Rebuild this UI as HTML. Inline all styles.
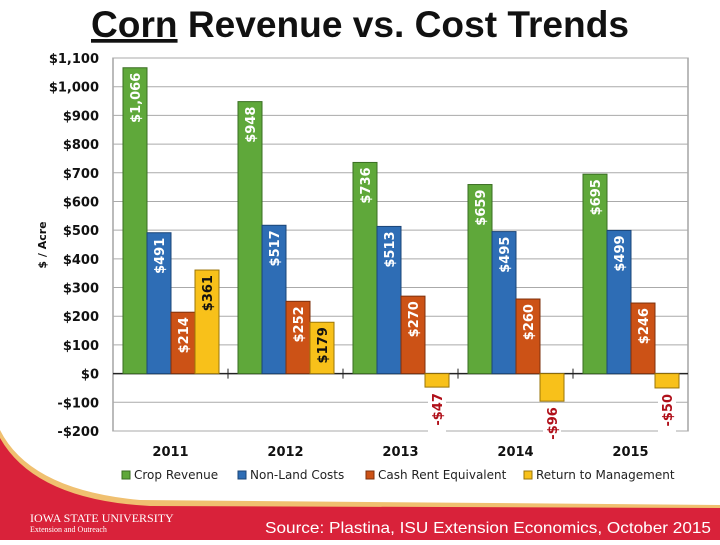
<!DOCTYPE html>
<html><head><meta charset="utf-8"><style>
body{margin:0;width:720px;height:540px;overflow:hidden;background:#fff;font-family:"Liberation Sans",sans-serif;}
svg text{font-family:"DejaVu Sans","Liberation Sans",sans-serif;}
</style></head><body>
<svg id="c" width="720" height="540" viewBox="0 0 720 540">
<path d="M0,430 Q30,490 140,500 L720,505 L720,540 L0,540 Z" fill="#f0c070"/>
<path d="M0,438 Q35,500 150,506 L720,508 L720,540 L0,540 Z" fill="#d9223a"/>
<text x="360" y="37" text-anchor="middle" font-size="37" font-weight="bold" fill="#111" textLength="538" lengthAdjust="spacingAndGlyphs" style="font-family:'Liberation Sans',sans-serif"><tspan text-decoration="underline">Corn</tspan> Revenue vs. Cost Trends</text>
<text x="30" y="522" font-size="12" fill="#fff" style="font-family:'Liberation Serif',serif">IOWA STATE UNIVERSITY</text>
<text x="30" y="532" font-size="8" fill="#fff" style="font-family:'Liberation Serif',serif">Extension and Outreach</text>
<text x="711" y="533" text-anchor="end" font-size="16" fill="#fff" textLength="446" lengthAdjust="spacingAndGlyphs" style="font-family:'Liberation Sans',sans-serif">Source:  Plastina, ISU Extension Economics, October 2015</text>
<text transform="translate(46,245) rotate(-90)" text-anchor="middle" font-size="11" font-weight="bold" fill="#111">$ / Acre</text>
<g id="plot"></g>
</svg>
<script>
const years=["2011","2012","2013","2014","2015"];
const cropRevenue=[1066,948,736,659,695];
const nonLandCosts=[491,517,513,495,499];
const cashRent=[214,252,270,260,246];
const returnMgmt=[361,179,-47,-96,-50];
const yTicks=[-200,-100,0,100,200,300,400,500,600,700,800,900,1000,1100];
const seriesNames=["Crop Revenue","Non-Land Costs","Cash Rent Equivalent","Return to Management"];
const NS="http://www.w3.org/2000/svg";
const L=113,R=688,T=58,B=431,ymin=-200,ymax=1100;
const y=v=>B-(v-ymin)/(ymax-ymin)*(B-T);
const gw=(R-L)/years.length;
const g=document.getElementById('plot');
function mk(t,a,p){const e=document.createElementNS(NS,t);for(const k in a)e.setAttribute(k,a[k]);(p||g).appendChild(e);return e;}
const fmt=v=>(v<0?"-":"")+"$"+Math.abs(v).toLocaleString("en-US");
mk('rect',{x:L,y:T,width:R-L,height:B-T,fill:'#fff',stroke:'#777'});
yTicks.forEach(v=>{
 const ln=mk('line',{x1:L,x2:R,y1:y(v),y2:y(v),stroke:v===0?'#222':'#aaa','stroke-width':v===0?1.5:1});
 
 
 const t=mk('text',{x:L-14,y:y(v)+5,'text-anchor':'end','font-size':13,'font-weight':'bold',fill:'#111'});
 t.textContent=(v<0?"-$":"$")+Math.abs(v).toLocaleString("en-US");
 
 
});
for(let i=1;i<years.length;i++){mk('line',{x1:L+gw*i,x2:L+gw*i,y1:y(0)-5,y2:y(0)+5,stroke:'#222'});}
const series=[cropRevenue,nonLandCosts,cashRent,returnMgmt];
const fills=['#5fa83a','#2e6db5','#cc5216','#f8c11a'];
const strokes=['#3a6e22','#1b4577','#7e300c','#9a7508'];
const txtCol=['#fff','#fff','#fff','#111'];
const bw=24;
years.forEach((yr,i)=>{
 const gx=L+gw*i+10;
 series.forEach((s,j)=>{
  const v=s[i],x=gx+j*bw,y0=y(0),y1=y(v);
  const r=mk('rect',{x:x,y:Math.min(y0,y1),width:bw,height:Math.abs(y1-y0),fill:fills[j],stroke:strokes[j],'stroke-width':1});
  
  
  let t;
  if(v>=0){
   t=mk('text',{transform:`translate(${x+bw/2+5},${y1+5}) rotate(-90)`,'text-anchor':'end','font-size':13,'font-weight':'bold',fill:txtCol[j]});
  }else{
   mk('rect',{x:x+3,y:y1+4,width:18,height:44,fill:'#fff'});
   t=mk('text',{transform:`translate(${x+bw/2+5},${y1+6}) rotate(-90)`,'text-anchor':'end','font-size':13,'font-weight':'bold',fill:'#b0101a'});
  }
  t.textContent=fmt(v);
  
  
 });
 const xl=mk('text',{x:L+gw*(i+0.5),y:456,'text-anchor':'middle','font-size':13,'font-weight':'bold',fill:'#111'});
 xl.textContent=yr;
 
 
});
const lx=[122,238,366,524];
seriesNames.forEach((n,j)=>{
 const s=mk('rect',{x:lx[j],y:471,width:8,height:8,fill:fills[j],stroke:strokes[j]});
 
 
 const t=mk('text',{x:lx[j]+12,y:479,'font-size':12,fill:'#222'});
 t.textContent=n;
 
 
});
</script>
</body></html>
